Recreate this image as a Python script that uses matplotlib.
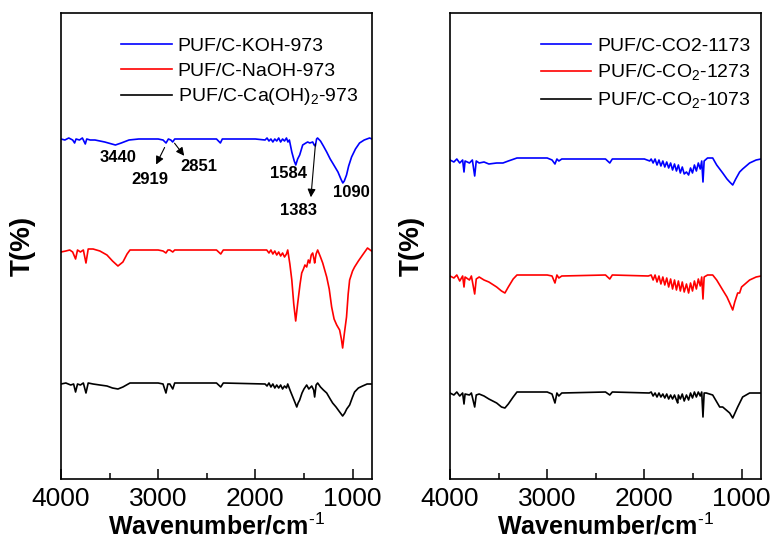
import matplotlib
matplotlib.use("Agg")
import matplotlib.pyplot as plt
from matplotlib.ticker import MultipleLocator
import numpy as np

plt.rcParams['font.family'] = ['Liberation Sans', 'DejaVu Sans']
plt.rcParams['mathtext.fontset'] = 'custom'
plt.rcParams['mathtext.rm'] = 'Liberation Sans'
plt.rcParams['mathtext.bf'] = 'Liberation Sans:bold'

# ---- FTIR spectra, left panel (activating agents) ----
koh_wn = [4000, 3960, 3920, 3880, 3860, 3845, 3810, 3780, 3750, 3735, 3700, 3650, 3550, 3440,
          3380, 3300, 3200, 3000, 2950, 2919, 2895, 2870, 2851, 2830, 2400, 2360, 2340, 2000,
          1900, 1880, 1860, 1840, 1820, 1800, 1780, 1760, 1740, 1720, 1700, 1680, 1665, 1650,
          1625, 1600, 1584, 1565, 1544, 1513, 1480, 1462, 1440, 1410, 1395, 1383, 1370, 1360,
          1330, 1300, 1266, 1230, 1205, 1150, 1120, 1100, 1085, 1062, 1040, 1010, 970, 928,
          880, 825, 800]
koh_t = [340, 339, 341, 339, 336, 340, 339, 341, 335, 340, 339, 339, 337, 334,
         336, 339, 340, 340, 339, 336, 340, 339, 337, 340, 340, 336, 340, 340,
         339, 341, 338, 340, 337, 340, 338, 341, 337, 340, 338, 341, 337, 339,
         327, 318, 314, 320, 324, 334, 336, 337, 336, 337, 334, 333, 340, 341,
         338, 333, 327, 320, 316, 307, 300, 296, 298, 304, 313, 322, 330, 336,
         339, 341, 340]

naoh_wn = [4000, 3950, 3910, 3880, 3850, 3830, 3800, 3770, 3743, 3720, 3670, 3600, 3527, 3470,
           3414, 3363, 3320, 3290, 3000, 2950, 2920, 2900, 2880, 2850, 2830, 2400, 2356, 2330,
           1883, 1860, 1840, 1820, 1800, 1780, 1760, 1740, 1720, 1700, 1680, 1667, 1645, 1625,
           1605, 1585, 1564, 1540, 1523, 1505, 1490, 1472, 1455, 1440, 1425, 1410, 1395, 1390,
           1375, 1359, 1330, 1307, 1266, 1240, 1215, 1190, 1163, 1133, 1115, 1102, 1085, 1062,
           1045, 1030, 1000, 979, 940, 897, 846, 805]
naoh_t = [227, 228, 229, 227, 220, 229, 227, 229, 216, 230, 230, 228, 224, 218,
          213, 217, 225, 229, 229, 228, 226, 229, 229, 227, 229, 229, 225, 229,
          229, 226, 229, 225, 228, 224, 227, 223, 226, 222, 225, 229, 215, 199,
          175, 158, 176, 195, 206, 210, 214, 212, 219, 216, 224, 226, 219, 216,
          225, 229, 222, 216, 202, 190, 172, 160, 154, 149, 140, 131, 145, 162,
          185, 199, 208, 212, 218, 224, 231, 228]

caoh_wn = [4000, 3950, 3900, 3870, 3850, 3830, 3800, 3770, 3743, 3720, 3670, 3600, 3527, 3470,
           3414, 3363, 3290, 3000, 2950, 2920, 2900, 2880, 2850, 2830, 2400, 2356, 2330, 1900,
           1880, 1860, 1840, 1820, 1800, 1780, 1760, 1740, 1720, 1700, 1680, 1667, 1640, 1615,
           1590, 1574, 1560, 1544, 1520, 1500, 1472, 1450, 1420, 1400, 1390, 1375, 1359, 1330,
           1300, 1266, 1230, 1205, 1170, 1140, 1102, 1080, 1060, 1030, 1000, 979, 940, 897,
           850, 805]
caoh_t = [95, 96, 94, 95, 87, 95, 94, 96, 86, 96, 95, 94, 93, 91,
          90, 92, 96, 96, 95, 86, 95, 95, 90, 96, 96, 92, 96, 95,
          93, 96, 92, 95, 91, 94, 91, 94, 90, 93, 91, 95, 88, 82,
          76, 72, 76, 79, 86, 90, 94, 90, 93, 89, 82, 94, 96, 92,
          89, 86, 80, 76, 72, 68, 63, 66, 70, 74, 82, 87, 91, 93,
          95, 95]

# ---- FTIR spectra, right panel (CO2 activation temperature) ----
co2_noise_wn = [1930, 1910, 1890, 1870, 1850, 1830, 1810, 1790, 1770, 1750, 1730, 1710, 1690,
                1670, 1650, 1630, 1610, 1590, 1567, 1545, 1525, 1505, 1485, 1465, 1445, 1425,
                1410]

c1173_wn = ([4000, 3960, 3930, 3900, 3870, 3856, 3845, 3800, 3770, 3746, 3730, 3700, 3650,
             3600, 3520, 3455, 3400, 3311, 3000, 2950, 2920, 2900, 2880, 2850, 2400, 2356,
             2330, 2000, 1945] + co2_noise_wn +
            [1397, 1385, 1350, 1297, 1256, 1194, 1150, 1122, 1091, 1060, 1020, 989, 917, 850, 800])
c1173_t = ([319, 317, 320, 316, 319, 307, 318, 316, 319, 303, 318, 316, 317,
            315, 316, 316, 318, 321, 321, 319, 315, 320, 318, 320, 320, 316,
            320, 320, 318] +
           [320, 316, 320, 314, 319, 313, 318, 312, 317, 311, 316, 309, 315,
            308, 314, 306, 312, 305, 307, 304, 311, 306, 314, 308, 316, 310,
            318] +
           [297, 318, 321, 321, 314, 306, 300, 297, 294, 300, 307, 310, 316, 319, 320])

c1273_wn = ([4000, 3960, 3930, 3900, 3870, 3856, 3845, 3800, 3780, 3746, 3730, 3700, 3650,
             3600, 3520, 3470, 3435, 3400, 3350, 3311, 3000, 2950, 2920, 2900, 2880, 2850,
             2400, 2356, 2330, 1960] + co2_noise_wn +
            [1397, 1385, 1350, 1297, 1256, 1194, 1150, 1122, 1091, 1070, 1040, 1020, 1000,
             917, 850, 800])
c1273_t = ([203, 201, 204, 198, 203, 192, 202, 199, 203, 185, 200, 202, 199,
            197, 192, 188, 186, 192, 200, 204, 204, 203, 196, 204, 201, 203,
            204, 200, 204, 203] +
           [204, 199, 204, 197, 203, 195, 202, 194, 201, 192, 200, 190, 199,
            189, 198, 188, 197, 187, 195, 186, 196, 188, 198, 190, 200, 193,
            202] +
           [180, 202, 204, 204, 199, 189, 182, 176, 169, 177, 186, 186, 192,
            199, 202, 203])

c1073_wn = ([4000, 3960, 3930, 3900, 3870, 3856, 3845, 3800, 3780, 3746, 3730, 3700, 3650,
             3600, 3520, 3470, 3435, 3400, 3350, 3311, 3000, 2950, 2920, 2900, 2880, 2850,
             2400, 2356, 2330, 1950] + co2_noise_wn[:14] + [1657] + co2_noise_wn[14:] +
            [1397, 1385, 1363, 1297, 1225, 1194, 1122, 1091, 1040, 989, 917, 850, 800])
c1073_t = ([86, 84, 87, 83, 86, 75, 85, 84, 86, 72, 84, 85, 83,
            80, 76, 72, 71, 75, 82, 87, 87, 85, 76, 86, 83, 86,
            87, 84, 87, 86] +
           [87, 83, 86, 82, 86, 82, 85, 81, 85, 80, 84, 80, 84,
            79, 76, 84, 80, 85, 78, 84, 79, 86, 81, 87, 82, 87,
            83, 87] +
           [62, 86, 86, 84, 72, 72, 66, 61, 72, 82, 86, 86, 86])

fig = plt.figure(figsize=(7.74, 5.46), dpi=100)
ax1 = fig.add_axes([0.0788, 0.1227, 0.4018, 0.8535])
ax2 = fig.add_axes([0.5814, 0.1227, 0.4018, 0.8535])

ax1.plot(koh_wn, koh_t, color='blue', lw=1.2, label='PUF/C-KOH-973')
ax1.plot(naoh_wn, naoh_t, color='red', lw=1.2, label='PUF/C-NaOH-973')
ax1.plot(caoh_wn, caoh_t, color='black', lw=1.2, label='PUF/C-Ca(OH)$_2$-973')

ax2.plot(c1173_wn, c1173_t, color='blue', lw=1.2, label='PUF/C-CO2-1173')
ax2.plot(c1273_wn, c1273_t, color='red', lw=1.2, label='PUF/C-CO$_2$-1273')
ax2.plot(c1073_wn, c1073_t, color='black', lw=1.2, label='PUF/C-CO$_2$-1073')

for ax in (ax1, ax2):
    ax.set_xlim(4000, 800)
    ax.set_ylim(0, 466)
    ax.xaxis.set_major_locator(MultipleLocator(1000))
    ax.xaxis.set_minor_locator(MultipleLocator(500))
    ax.tick_params(axis='x', which='major', direction='in', length=7, width=1.1,
                   labelsize=19, pad=6, top=False)
    ax.tick_params(axis='x', which='minor', direction='in', length=4, width=1.1, top=False)
    ax.set_yticks([])
    for s in ax.spines.values():
        s.set_linewidth(1.2)
    ax.set_xlabel('Wavenumber/cm$^{\\text{-1}}$', fontsize=18, fontweight='bold', labelpad=1)
    ax.set_ylabel('T(%)', fontsize=20, fontweight='bold', labelpad=18)

ax1.legend(loc='upper center', bbox_to_anchor=(0.575, 0.985), frameon=False, fontsize=14,
           handlelength=2.6, handletextpad=0.3, labelspacing=0.35)
ax2.legend(loc='upper center', bbox_to_anchor=(0.63, 0.985), frameon=False, fontsize=14,
           handlelength=2.6, handletextpad=0.3, labelspacing=0.4)

# peak assignments on the KOH spectrum
ann = dict(fontsize=12, fontweight='bold', ha='center', va='center')
arrow = dict(arrowstyle='-|>', color='black', lw=0.8, mutation_scale=12)
ax1.text(3414, 321, '3440', **ann)
ax1.text(1657, 305, '1584', **ann)
ax1.text(1009, 286, '1090', **ann)
ax1.annotate('', xy=(3034, 312), xytext=(2921, 334), arrowprops=arrow)
ax1.text(3085, 299, '2919', **ann)
ax1.annotate('', xy=(2715, 321), xytext=(2849, 338), arrowprops=arrow)
ax1.text(2582, 312, '2851', **ann)
ax1.annotate('', xy=(1431, 279), xytext=(1379, 338), arrowprops=arrow)
ax1.text(1554, 268, '1383', **ann)

fig.savefig('out.png', dpi=100)
